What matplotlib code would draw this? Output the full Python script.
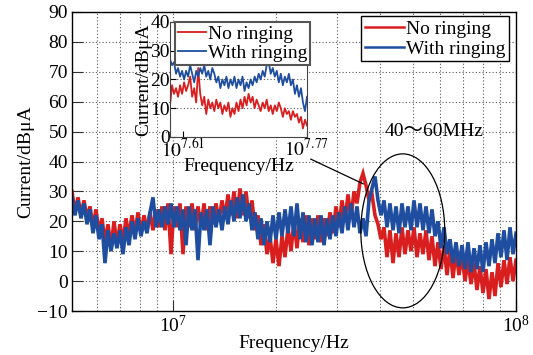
import numpy as np
import matplotlib
matplotlib.use("Agg")
import matplotlib.pyplot as plt
from matplotlib.patches import Ellipse
from matplotlib.ticker import FixedLocator, NullFormatter, LogLocator

plt.rcParams['font.family'] = ['Liberation Serif', 'Noto Sans CJK SC']
plt.rcParams['mathtext.fontset'] = 'stix'

# ---------------- data ----------------
main_log_start, main_log_end = 6.705, 8.0
main_no_ringing = [30, 23, 28, 22, 27, 21, 25, 18, 24, 16, 21, 13, 19, 11, 20, 12, 19, 13, 21, 15,
                   22, 16, 23, 16, 22, 17, 23, 17, 24, 18, 25, 17, 26, 9, 25, 18, 26, 9, 25, 18,
                   26, 17, 25, 18, 26, 17, 25, 19, 26, 20, 27, 21, 29, 22, 30, 21, 31, 22, 30, 21,
                   27, 17, 22, 12, 19, 9, 15, 6, 14, 5, 15, 8, 18, 10, 20, 11, 21, 13, 22, 12,
                   21, 14, 22, 13, 21, 15, 23, 16, 25, 18, 27, 20, 29, 21, 30, 26, 33, 36, 32, 27,
                   29, 22, 19, 14, 18, 8, 17, 6, 16, 8, 18, 9, 17, 10, 18, 8, 16, 9, 17, 7,
                   15, 5, 13, 4, 12, 2, 11, 1, 10, 2, 9, 0, 7, -1, 6, -3, 5, -4, 4, -6,
                   3, -5, 6, -2, 7, -1, 8, 0, 7]
main_with_ringing = [28, 22, 27, 21, 26, 19, 24, 16, 22, 14, 19, 6, 17, 10, 16, 11, 17, 9, 18, 12,
                     20, 14, 21, 15, 20, 16, 23, 28, 18, 24, 18, 25, 19, 26, 18, 25, 17, 24, 12, 25,
                     17, 24, 7, 23, 17, 24, 12, 25, 18, 24, 17, 25, 19, 27, 20, 28, 21, 29, 20, 26,
                     17, 23, 14, 21, 12, 20, 13, 22, 14, 23, 15, 24, 16, 25, 15, 26, 14, 23, 13, 22,
                     12, 21, 13, 22, 12, 21, 14, 22, 15, 23, 16, 25, 17, 26, 18, 25, 16, 21, 15, 27,
                     31, 35, 27, 22, 27, 18, 26, 17, 25, 16, 26, 18, 25, 17, 27, 18, 26, 17, 25, 16,
                     24, 15, 20, 11, 18, 9, 14, 6, 13, 5, 12, 4, 13, 3, 11, 4, 12, 3, 13, 5,
                     14, 6, 16, 8, 17, 7, 18, 9, 16]

inset_log_start, inset_log_end = 7.593, 7.77
inset_tick_exponents = [7.61, 7.77]
inset_no_ringing = [11, 18, 15, 17, 14, 18, 15, 19, 16, 18, 21, 14, 17, 12, 24, 15, 11, 14, 8, 13,
                    10, 12, 9, 13, 10, 12, 8, 11, 9, 12, 7, 10, 8, 12, 9, 13, 10, 14, 11, 15,
                    12, 14, 10, 13, 11, 9, 12, 10, 13, 9, 11, 8, 11, 9, 12, 10, 7, 10, 8, 9,
                    6, 9, 7, 8, 5, 7, 3, 6, 4]
inset_with_ringing = [27, 25, 26, 22, 24, 21, 23, 20, 23, 21, 25, 22, 19, 23, 21, 24, 22, 25, 21, 23,
                      20, 24, 22, 19, 21, 17, 20, 18, 21, 17, 20, 18, 21, 17, 20, 18, 21, 16, 19, 17,
                      20, 18, 21, 19, 22, 20, 23, 21, 25, 26, 22, 24, 21, 23, 19, 22, 18, 21, 19, 22,
                      18, 20, 15, 18, 14, 17, 12, 9, 14]

labels = ["No ringing", "With ringing"]
red = '#d81e1e'
blue = '#1f4ea0'

# ---------------- figure ----------------
fig = plt.figure(figsize=(5.33, 3.55), dpi=100)
ax = fig.add_axes([72/533, 1-311/355, 444/533, 299/355])

f_main = np.logspace(main_log_start, main_log_end, len(main_no_ringing))
ax.plot(f_main, main_no_ringing, color=red, lw=2.6, solid_joinstyle='miter', label=labels[0])
ax.plot(f_main, main_with_ringing, color=blue, lw=2.6, solid_joinstyle='miter', label=labels[1])
ax.set_xscale('log')
ax.set_xlim(10**main_log_start, 1e8)
ax.set_ylim(-10, 90)
ax.set_yticks(np.arange(-10, 91, 10))
ax.xaxis.set_major_locator(FixedLocator([1e7, 1e8]))
ax.xaxis.set_minor_locator(LogLocator(base=10, subs=np.arange(2, 10)))
ax.xaxis.set_minor_formatter(NullFormatter())
ax.grid(True, which='both', linestyle=(0, (1, 2)), color='#555555', lw=0.8)
ax.tick_params(which='major', direction='in', length=8, labelsize=14, color='#333333', pad=3)
ax.tick_params(which='minor', direction='in', length=0)
ax.set_xlabel('Frequency/Hz', fontsize=14, labelpad=-1)
ax.set_ylabel('Current/dBμA', fontsize=14, labelpad=2)
for s in ax.spines.values():
    s.set_linewidth(1.0)
leg = ax.legend(loc='upper right', bbox_to_anchor=(0.985, 0.985), fontsize=14,
                handlelength=2.0, handletextpad=0.1, labelspacing=0.1,
                borderpad=0.2, borderaxespad=0, fancybox=False, framealpha=1,
                edgecolor='black')
leg.get_frame().set_linewidth(1.0)
for h in leg.get_lines():
    h.set_linewidth(1.8)

# ellipse and annotation
ax.add_patch(Ellipse((0.745, 0.268), 0.189, 0.515, transform=ax.transAxes,
                     fill=False, edgecolor='black', lw=0.9, zorder=5))
ax.annotate('', xy=(0.662, 0.421), xytext=(0.532, 0.512), xycoords='axes fraction',
            arrowprops=dict(arrowstyle='-', color='black', lw=0.9))
ax.text(0.815, 0.602, '40～60MHz', transform=ax.transAxes, ha='center', va='center',
        fontsize=14, family=['Liberation Serif', 'Noto Sans CJK SC'])

# ---------------- inset ----------------
axi = fig.add_axes([170/533, 1-137/355, 137/533, 115/355])
f_in = np.logspace(inset_log_start, inset_log_end, len(inset_no_ringing))
axi.plot(f_in, inset_no_ringing, color=red, lw=1.3, label=labels[0])
axi.plot(f_in, inset_with_ringing, color=blue, lw=1.3, label=labels[1])
axi.set_xscale('log')
axi.set_xlim(10**inset_log_start, 10**inset_log_end)
axi.set_ylim(0, 40)
axi.set_yticks([0, 10, 20, 30, 40])
axi.xaxis.set_major_locator(FixedLocator([10**e for e in inset_tick_exponents]))
axi.xaxis.set_major_formatter(plt.FuncFormatter(lambda v, p: '$10^{%.2f}$' % np.log10(v)))
axi.xaxis.set_minor_locator(FixedLocator([]))
axi.grid(True, axis='y', linestyle=(0, (1, 2)), color='#555555', lw=0.8)
axi.tick_params(direction='in', length=4, labelsize=14, pad=1)
axi.tick_params(axis='y', pad=0)
axi.set_xlabel('Frequency/Hz', fontsize=14, labelpad=-2)
axi.set_ylabel('Current/dBμA', fontsize=14, labelpad=-1)
for s in axi.spines.values():
    s.set_color('#444444')
leg2 = axi.legend(loc='upper left', bbox_to_anchor=(0.04, 1.0), fontsize=14,
                  handlelength=1.4, handletextpad=0.1, labelspacing=0.1,
                  borderpad=0.15, borderaxespad=0, fancybox=False, framealpha=1,
                  edgecolor='#555555')
leg2.get_frame().set_linewidth(1.5)

fig.savefig('out.png', dpi=100)
